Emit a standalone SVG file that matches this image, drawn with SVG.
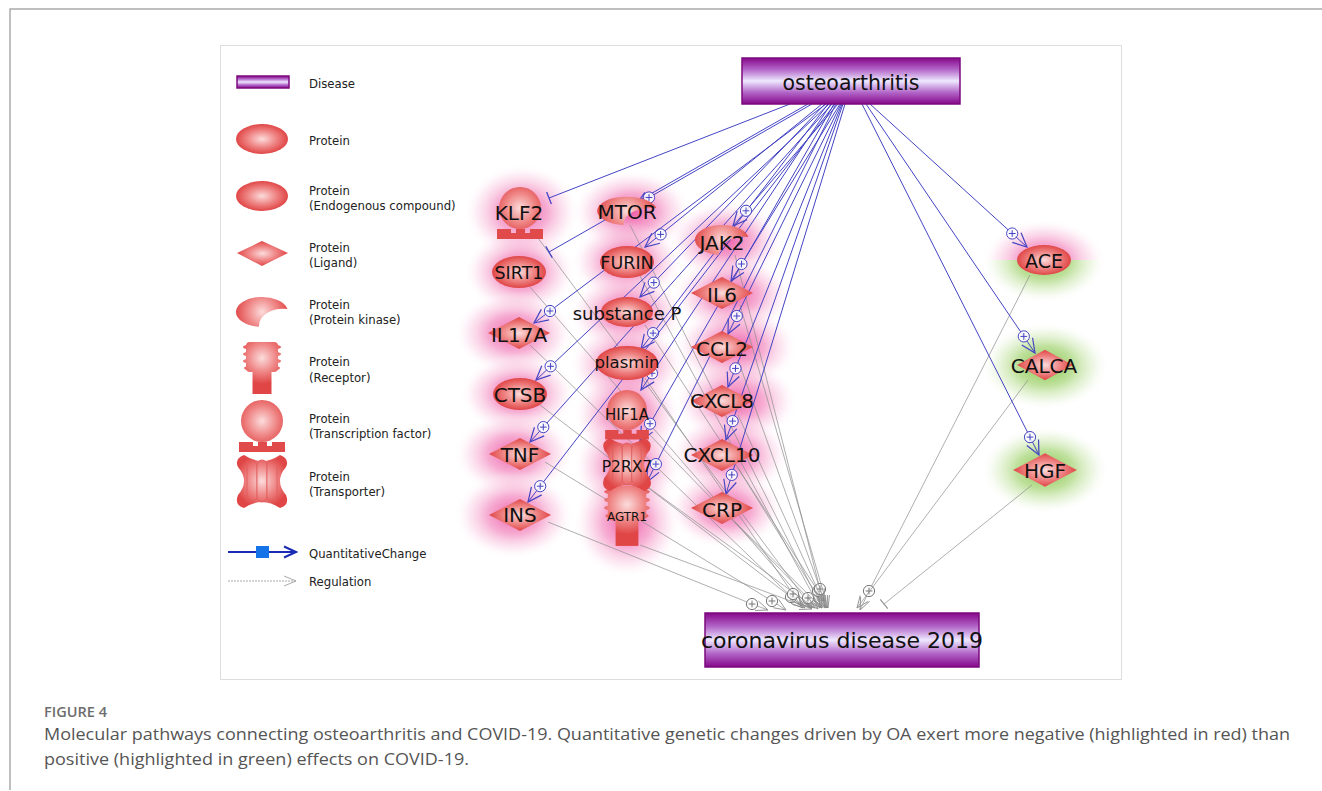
<svg xmlns="http://www.w3.org/2000/svg" xmlns:xlink="http://www.w3.org/1999/xlink" width="1322" height="791" viewBox="0 0 1322 791">
<style>
.lbl{font-family:"DejaVu Sans","Liberation Sans",sans-serif;fill:#111;text-anchor:middle}
.leg{font-family:"DejaVu Sans","Liberation Sans",sans-serif;font-size:11.7px;fill:#222}
.cap{font-family:"Open Sans","Liberation Sans",sans-serif;font-size:17px;fill:#555}
.blue{fill:none;stroke:#4444c4;stroke-width:1}
.gray{fill:none;stroke:#8c8c8c;stroke-width:0.7}
.dis{fill:url(#gDis);stroke:#7d0a7d;stroke-width:1.5}
.red{fill:url(#gR)}
</style>
<defs>
<radialGradient id="gR" cx=".5" cy=".5" r=".5"><stop offset="0" stop-color="#fcdcdc"/><stop offset=".55" stop-color="#ef8585"/><stop offset="1" stop-color="#e04646"/></radialGradient>
<radialGradient id="gU" gradientUnits="userSpaceOnUse" cx="0" cy="0" r="27"><stop offset="0" stop-color="#fcdcdc"/><stop offset=".55" stop-color="#ef8585"/><stop offset="1" stop-color="#e04646"/></radialGradient>
<radialGradient id="gRec" gradientUnits="userSpaceOnUse" cx="0" cy="-10" r="26"><stop offset="0" stop-color="#fcdcdc"/><stop offset=".55" stop-color="#ef8585"/><stop offset="1" stop-color="#e04646"/></radialGradient>
<linearGradient id="gDis" x1="0" y1="0" x2="0" y2="1"><stop offset="0" stop-color="#86088a"/><stop offset=".25" stop-color="#b266c8"/><stop offset=".5" stop-color="#eee8ff"/><stop offset=".75" stop-color="#b266c8"/><stop offset="1" stop-color="#86088a"/></linearGradient>
<radialGradient id="gPink" cx=".5" cy=".5" r=".5"><stop offset="0" stop-color="#ea3f98" stop-opacity=".85"/><stop offset=".45" stop-color="#f178b6" stop-opacity=".6"/><stop offset=".75" stop-color="#f7b5d6" stop-opacity=".3"/><stop offset="1" stop-color="#ffffff" stop-opacity="0"/></radialGradient>
<radialGradient id="gGreen" cx=".5" cy=".5" r=".5"><stop offset="0" stop-color="#6fb82a" stop-opacity=".85"/><stop offset=".45" stop-color="#93cc5a" stop-opacity=".6"/><stop offset=".75" stop-color="#c4e3a2" stop-opacity=".3"/><stop offset="1" stop-color="#ffffff" stop-opacity="0"/></radialGradient>
<clipPath id="cTop"><rect x="980" y="200" width="130" height="60"/></clipPath>
<clipPath id="cBot"><rect x="980" y="260" width="130" height="60"/></clipPath>
<path id="kin" d="M25.5,-3 A26,15 0 1 0 -3,14.8 A24,17 0 0 1 25.5,-3 Z" fill="url(#gU)"/>
<polygon id="dia" points="-31,0 0,-16 31,0 0,16" class="red"/>
<g id="tf"><circle r="21" fill="url(#gU)"/><path d="M-23,21 H-9 V25 H-4 V21 H5 V25 H10 V21 H23 V31 H-23 Z" fill="#e04a4a"/></g>
<g id="rec" fill="url(#gRec)"><rect x="-9.5" y="2" width="19" height="24"/><rect x="-16" y="-26" width="32" height="30" rx="4"/><ellipse cy="-21" rx="19" ry="3.6"/><ellipse cy="-14" rx="19" ry="3.6"/><ellipse cy="-7" rx="19" ry="3.6"/><ellipse cy="0" rx="18" ry="3.6"/></g>
<g id="trn"><path d="M-18,-26 Q0,-14 18,-26 Q28,-22 24,-14 Q12,0 24,14 Q28,24 18,27 Q0,15 -18,27 Q-28,24 -24,14 Q-12,0 -24,-14 Q-28,-22 -18,-26 Z" fill="url(#gU)"/><g fill="url(#gU)" stroke="#df5a5a" stroke-width=".8"><rect x="-15" y="-20" width="10" height="40" rx="5"/><rect x="-5" y="-21" width="10" height="42" rx="5"/><rect x="5" y="-20" width="10" height="40" rx="5"/></g></g>
<marker id="arrB" markerUnits="userSpaceOnUse" markerWidth="18" markerHeight="16" viewBox="0 0 18 16" refX="16" refY="8" orient="auto"><path d="M2,1.5 L16,8 L2,14.5" fill="none" stroke="#4444c4" stroke-width="1.2"/></marker>
<marker id="tB" markerUnits="userSpaceOnUse" markerWidth="4" markerHeight="16" viewBox="-2 -8 4 16" refX="0" refY="0" orient="auto"><path d="M0,-6.5 V6.5" stroke="#4444c4" stroke-width="1.3"/></marker>
<marker id="pB" markerUnits="userSpaceOnUse" markerWidth="14" markerHeight="14" viewBox="0 0 14 14" refX="7" refY="7" orient="0"><circle cx="7" cy="7" r="5.6" fill="#fff" fill-opacity=".85" stroke="#4444c4" stroke-width="1"/><path d="M7,3.6 V10.4 M3.6,7 H10.4" stroke="#4444c4" stroke-width="1"/></marker>
<marker id="arrG" markerUnits="userSpaceOnUse" markerWidth="14" markerHeight="12" viewBox="0 0 14 12" refX="13" refY="6" orient="auto"><path d="M1,1 L13,6 L1,11" fill="none" stroke="#888" stroke-width=".8"/></marker>
<marker id="tG" markerUnits="userSpaceOnUse" markerWidth="4" markerHeight="16" viewBox="-2 -8 4 16" refX="0" refY="0" orient="auto"><path d="M0,-6 V6" stroke="#888" stroke-width="1"/></marker>
<marker id="pG" markerUnits="userSpaceOnUse" markerWidth="14" markerHeight="14" viewBox="0 0 14 14" refX="7" refY="7" orient="0"><circle cx="7" cy="7" r="5.6" fill="#fff" fill-opacity=".85" stroke="#777" stroke-width="1"/><path d="M7,3.6 V10.4 M3.6,7 H10.4" stroke="#777" stroke-width="1"/></marker>
<marker id="legA" markerUnits="userSpaceOnUse" markerWidth="16" markerHeight="14" viewBox="0 0 16 14" refX="14" refY="7" orient="auto"><path d="M2,1.5 L14,7 L2,12.5" fill="none" stroke="#1a2bb5" stroke-width="2"/></marker>
<marker id="legG" markerUnits="userSpaceOnUse" markerWidth="16" markerHeight="14" viewBox="0 0 16 14" refX="14" refY="7" orient="auto"><path d="M2,2 L14,7 L2,12" fill="none" stroke="#aaa" stroke-width="1"/></marker>
</defs>

<rect width="1322" height="791" fill="#fff"/>
<path d="M10,790 V9 H1322" fill="none" stroke="#aaa" stroke-width="1.5"/>
<rect x="220.5" y="45.5" width="901" height="634" fill="#fff" stroke="#ddd"/>

<g id="legend">
<rect x="237" y="76" width="52" height="12" class="dis"/><text class="leg" x="309" y="88">Disease</text>
<ellipse cx="262" cy="139" rx="26" ry="15" class="red"/><text class="leg" x="309" y="145">Protein</text>
<ellipse cx="262" cy="196" rx="26" ry="15" class="red"/><text class="leg" x="309" y="195">Protein</text><text class="leg" x="309" y="210">(Endogenous compound)</text>
<polygon points="237,253 262,241 288,253 262,266" class="red"/><text class="leg" x="309" y="252">Protein</text><text class="leg" x="309" y="267">(Ligand)</text>
<use xlink:href="#kin" transform="translate(262,312)"/><text class="leg" x="309" y="309">Protein</text><text class="leg" x="309" y="324">(Protein kinase)</text>
<use xlink:href="#rec" transform="translate(262,368)"/><text class="leg" x="309" y="366">Protein</text><text class="leg" x="309" y="382">(Receptor)</text>
<use xlink:href="#tf" transform="translate(262,421)"/><text class="leg" x="309" y="423">Protein</text><text class="leg" x="309" y="438">(Transcription factor)</text>
<use xlink:href="#trn" transform="translate(262,481)"/><text class="leg" x="309" y="481">Protein</text><text class="leg" x="309" y="496">(Transporter)</text>
<path d="M228,552 H296" stroke="#1a2bb5" stroke-width="2" marker-end="url(#legA)"/><rect x="256" y="546" width="13" height="12" fill="#1473e6"/><text class="leg" x="309" y="558">QuantitativeChange</text>
<path d="M228,581 H296" stroke="#aaa" stroke-width="1" stroke-dasharray="2,1" marker-end="url(#legG)"/><text class="leg" x="309" y="586">Regulation</text>
</g>

<g id="halos">
<ellipse cx="522" cy="212" rx="58" ry="48" fill="url(#gPink)"/>
<ellipse cx="632" cy="212" rx="60" ry="42" fill="url(#gPink)"/>
<ellipse cx="520" cy="272" rx="56" ry="42" fill="url(#gPink)"/>
<ellipse cx="627" cy="262" rx="56" ry="40" fill="url(#gPink)"/>
<ellipse cx="726" cy="241" rx="58" ry="40" fill="url(#gPink)"/>
<ellipse cx="514" cy="333" rx="60" ry="42" fill="url(#gPink)"/>
<ellipse cx="627" cy="313" rx="58" ry="40" fill="url(#gPink)"/>
<ellipse cx="732" cy="295" rx="60" ry="40" fill="url(#gPink)"/>
<ellipse cx="627" cy="364" rx="58" ry="40" fill="url(#gPink)"/>
<ellipse cx="736" cy="347" rx="62" ry="42" fill="url(#gPink)"/>
<ellipse cx="518" cy="394" rx="58" ry="40" fill="url(#gPink)"/>
<ellipse cx="736" cy="401" rx="62" ry="42" fill="url(#gPink)"/>
<ellipse cx="627" cy="414" rx="54" ry="48" fill="url(#gPink)"/>
<ellipse cx="627" cy="466" rx="54" ry="50" fill="url(#gPink)"/>
<ellipse cx="627" cy="522" rx="54" ry="56" fill="url(#gPink)"/>
<ellipse cx="514" cy="454" rx="60" ry="42" fill="url(#gPink)"/>
<ellipse cx="730" cy="455" rx="60" ry="42" fill="url(#gPink)"/>
<ellipse cx="514" cy="515" rx="60" ry="44" fill="url(#gPink)"/>
<ellipse cx="726" cy="509" rx="58" ry="40" fill="url(#gPink)"/>
<ellipse cx="1044" cy="261" rx="62" ry="42" fill="url(#gPink)" clip-path="url(#cTop)"/>
<ellipse cx="1044" cy="261" rx="62" ry="42" fill="url(#gGreen)" clip-path="url(#cBot)"/>
<ellipse cx="1045" cy="366" rx="64" ry="44" fill="url(#gGreen)"/>
<ellipse cx="1045" cy="470" rx="64" ry="44" fill="url(#gGreen)"/>
</g>

<g id="connectors">
<g class="gray" marker-end="url(#arrG)" marker-mid="url(#pG)">
<path d="M535,234 L812,608"/>
<path d="M530,287 L810,608"/>
<path d="M530,345 L803,608"/>
<path d="M540,405 L791,597 L805,608"/>
<path d="M545,462 L772,601 L786,610"/>
<path d="M548,522 L752,604 L768,610"/>
<path d="M630,225 L822,608"/>
<path d="M640,276 L820,608"/>
<path d="M645,325 L818,591 L825,602"/>
<path d="M645,378 L793,594 L801,606"/>
<path d="M645,430 L808,598 L818,609"/>
<path d="M645,485 L815,608"/>
<path d="M640,545 L812,609"/>
<path d="M735,255 L820,589 L823,601"/>
<path d="M740,305 L828,608"/>
<path d="M738,360 L827,608"/>
<path d="M738,415 L826,608"/>
<path d="M738,468 L825,608"/>
<path d="M735,522 L822,608"/>
<path d="M1030,275 L869,591 L860,610"/>
<path d="M1028,380 L857,608"/>
</g>
<path class="gray" d="M1032,485 L884,604" marker-end="url(#tG)"/>
<path class="blue" d="M790,104 L549,198" marker-end="url(#tB)"/>
<path class="blue" d="M808,104 L549,252" marker-end="url(#tB)"/>
<g class="blue" marker-end="url(#arrB)" marker-mid="url(#pB)">
<path d="M812,104 L649,197.5 L636,205"/>
<path d="M822,104 L660.6,234.4 L645,247"/>
<path d="M825,104 L653.8,282.6 L640,297"/>
<path d="M826,104 L550,311 L534,323"/>
<path d="M828,104 L653.1,333.1 L641,349"/>
<path d="M829,104 L550.6,366.3 L536,380"/>
<path d="M831,104 L652,373.3 L641,390"/>
<path d="M832,104 L543.3,427.1 L530,442"/>
<path d="M834,104 L650,423.7 L640,441"/>
<path d="M835,104 L540.2,486.2 L528,502"/>
<path d="M836,104 L655.9,464.1 L647,482"/>
<path d="M838,104 L746,210.8 L733,226"/>
<path d="M840,104 L741.5,264 L731,281"/>
<path d="M841,104 L736.8,316 L728,334"/>
<path d="M842,104 L735.5,368.4 L728,387"/>
<path d="M843,104 L732.6,421.1 L726,440"/>
<path d="M845,104 L731.8,474.9 L726,494"/>
<path d="M870,104 L1012.2,233.5 L1027,247"/>
<path d="M866,104 L1023.8,336.4 L1035,353"/>
<path d="M862,104 L1030,437.1 L1039,455"/>
</g>
</g>

<g id="n-osteoarthritis"><rect x="742" y="58" width="218" height="46" class="dis"/><text class="lbl" x="851" y="90" font-size="20.5">osteoarthritis</text></g>
<g id="n-covid"><rect x="705" y="613" width="274" height="54" class="dis"/><text class="lbl" x="842" y="648" font-size="22">coronavirus disease 2019</text></g>

<g id="n-KLF2"><use xlink:href="#tf" transform="translate(520,208)"/><text class="lbl" x="519" y="220" font-size="20">KLF2</text></g>
<g id="n-MTOR"><use xlink:href="#kin" transform="translate(627,211) scale(1.15,0.95)"/><text class="lbl" x="627" y="219" font-size="20">MTOR</text></g>
<g id="n-SIRT1"><ellipse cx="519" cy="272" rx="27" ry="16" class="red"/><text class="lbl" x="519" y="279" font-size="17.5">SIRT1</text></g>
<g id="n-FURIN"><ellipse cx="627" cy="262" rx="27" ry="16" class="red"/><text class="lbl" x="627" y="269" font-size="17.5">FURIN</text></g>
<g id="n-JAK2"><use xlink:href="#kin" transform="translate(722,240) scale(1.04,1)"/><text class="lbl" x="722" y="250" font-size="20">JAK2</text></g>
<g id="n-IL17A"><use xlink:href="#dia" transform="translate(519,333)"/><text class="lbl" x="519" y="342" font-size="20">IL17A</text></g>
<g id="n-substanceP"><ellipse cx="627" cy="312" rx="26" ry="15" class="red"/><text class="lbl" x="627" y="320" font-size="18">substance P</text></g>
<g id="n-IL6"><use xlink:href="#dia" transform="translate(722,293)"/><text class="lbl" x="722" y="302" font-size="20">IL6</text></g>
<g id="n-plasmin"><ellipse cx="627" cy="363" rx="31" ry="17" class="red"/><text class="lbl" x="627" y="368" font-size="16.5">plasmin</text></g>
<g id="n-CCL2"><use xlink:href="#dia" transform="translate(722,347)"/><text class="lbl" x="722" y="356" font-size="20">CCL2</text></g>
<g id="n-CTSB"><ellipse cx="520" cy="394" rx="27" ry="16" class="red"/><text class="lbl" x="520" y="402" font-size="20">CTSB</text></g>
<g id="n-CXCL8"><use xlink:href="#dia" transform="translate(722,401)"/><text class="lbl" x="722" y="408" font-size="20">CXCL8</text></g>
<g id="n-AGTR1"><use xlink:href="#rec" transform="translate(627,516) scale(1.2,1.15)"/><text class="lbl" x="627" y="521" font-size="12">AGTR1</text></g>
<g id="n-P2RX7"><use xlink:href="#trn" transform="translate(627,464) scale(0.95,1)"/><text class="lbl" x="627" y="472" font-size="15.5">P2RX7</text></g>
<g id="n-HIF1A"><use xlink:href="#tf" transform="translate(627,410) scale(0.95)"/><text class="lbl" x="627" y="420" font-size="15">HIF1A</text></g>
<g id="n-TNF"><use xlink:href="#dia" transform="translate(520,454)"/><text class="lbl" x="520" y="462" font-size="20">TNF</text></g>
<g id="n-CXCL10"><use xlink:href="#dia" transform="translate(722,455)"/><text class="lbl" x="722" y="462" font-size="20">CXCL10</text></g>
<g id="n-INS"><use xlink:href="#dia" transform="translate(520,515)"/><text class="lbl" x="520" y="522" font-size="20">INS</text></g>
<g id="n-CRP"><use xlink:href="#dia" transform="translate(722,508)"/><text class="lbl" x="722" y="517" font-size="20">CRP</text></g>
<g id="n-ACE"><ellipse cx="1044" cy="260" rx="27" ry="15" class="red"/><text class="lbl" x="1044" y="268" font-size="19">ACE</text></g>
<g id="n-CALCA"><use xlink:href="#dia" transform="translate(1045,365) scale(0.9,0.95)"/><text class="lbl" x="1044" y="373" font-size="20">CALCA</text></g>
<g id="n-HGF"><use xlink:href="#dia" transform="translate(1045,470) scale(1.03,1.05)"/><text class="lbl" x="1045" y="478" font-size="20">HGF</text></g>

<g id="caption">
<text x="44" y="717" font-family="'Open Sans','Liberation Sans',sans-serif" font-size="13.5" font-weight="600" fill="#6d6d6d" textLength="63" lengthAdjust="spacingAndGlyphs">FIGURE 4</text>
<text class="cap" x="44" y="740" textLength="1246" lengthAdjust="spacingAndGlyphs">Molecular pathways connecting osteoarthritis and COVID-19. Quantitative genetic changes driven by OA exert more negative (highlighted in red) than</text>
<text class="cap" x="44" y="765" textLength="425" lengthAdjust="spacingAndGlyphs">positive (highlighted in green) effects on COVID-19.</text>
</g>
</svg>
